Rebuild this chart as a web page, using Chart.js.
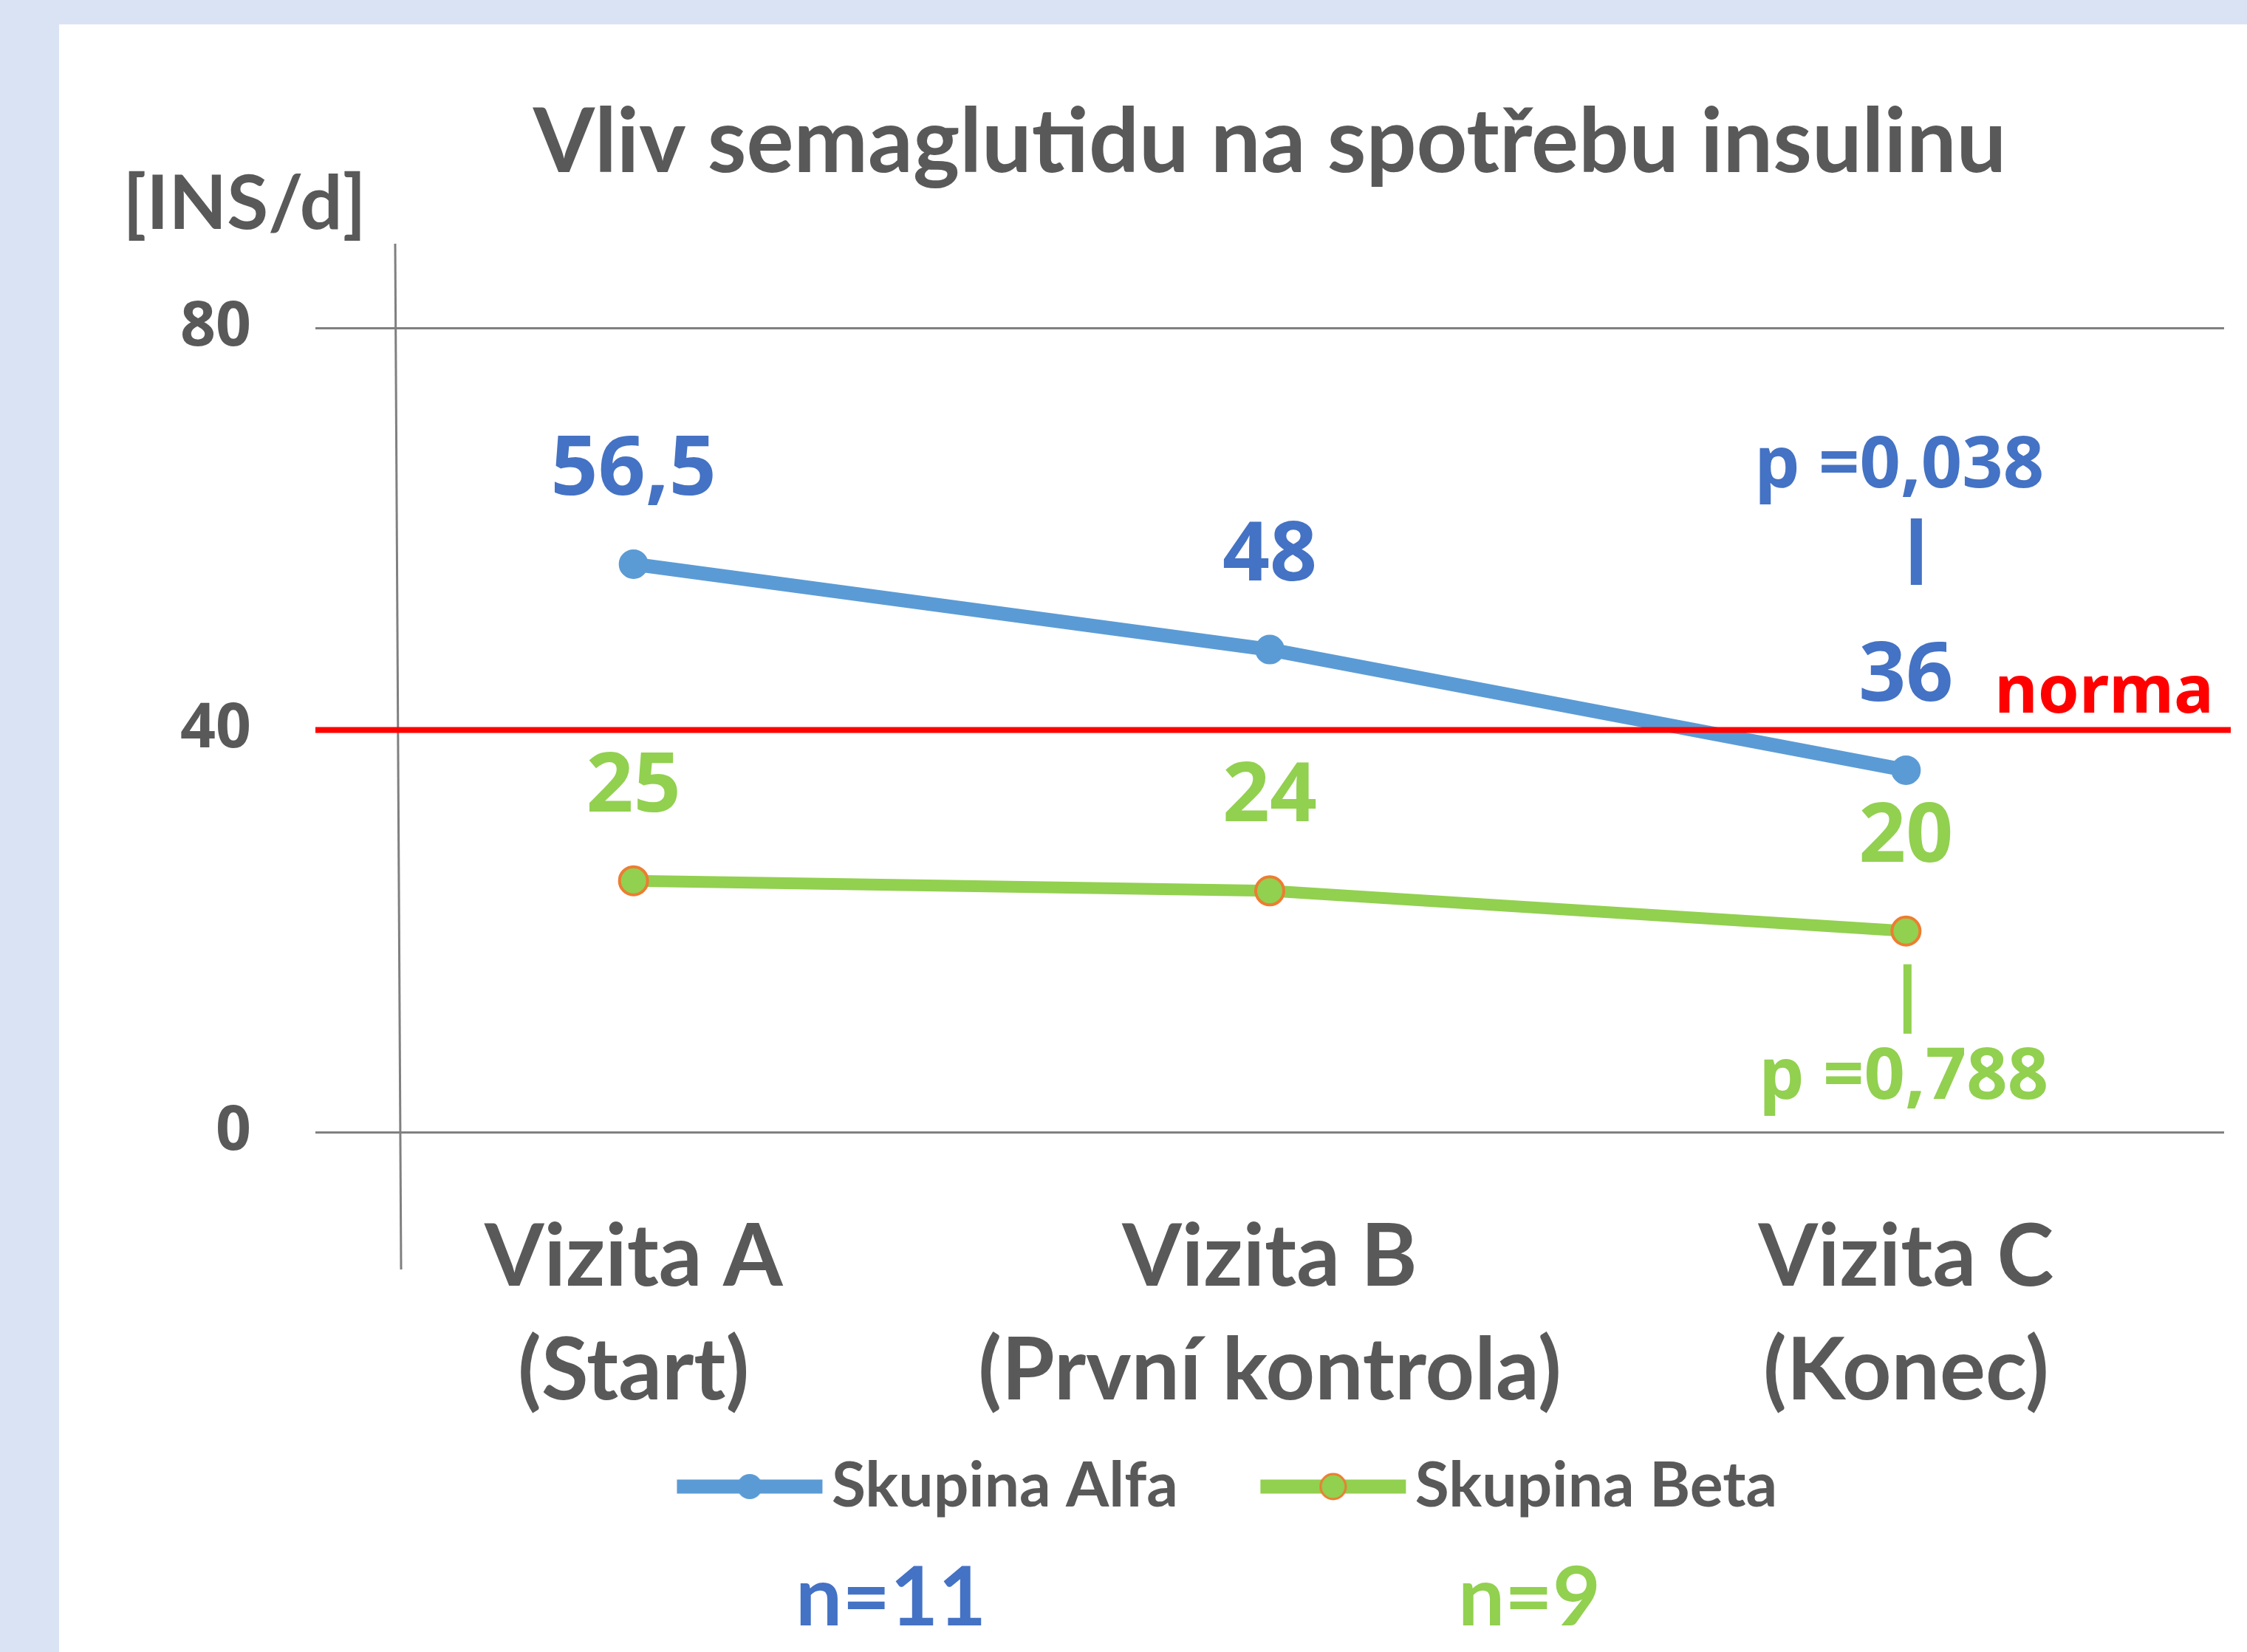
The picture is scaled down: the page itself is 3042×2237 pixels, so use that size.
<!DOCTYPE html>
<html>
<head>
<meta charset="utf-8">
<title>Vliv semaglutidu na spotřebu insulinu</title>
<script src="https://cdn.jsdelivr.net/npm/chart.js@4.4.1/dist/chart.umd.min.js"></script>
<style>
  html, body { margin: 0; padding: 0; background: #dae3f3; }
  body { width: 3042px; height: 2237px; position: relative; overflow: hidden; }
  #panel { position: absolute; left: 80px; top: 33px; width: 2962px; height: 2204px; background: #fff; }
  #insulinChart { display: block; }
</style>
</head>
<body>
<div id="panel"><canvas id="insulinChart" width="2962" height="2204"></canvas></div>
<script>
// chart data
const categories = [["Vizita A", "(Start)"], ["Vizita B", "(První kontrola)"], ["Vizita C", "(Konec)"]];
const seriesNames = ["Skupina Alfa", "Skupina Beta"];
const alfaValues = [56.5, 48, 36];
const betaValues = [25, 24, 20];
const yTicks = [0, 40, 80];
const normaValue = 40;
const groupSizes = ["n=11", "n=9"];
const pValues = ["p =0,038", "p =0,788"];

const BLUE_LINE = "#5b9bd5";
const BLUE_TEXT = "#4472c4";
const GREEN = "#92d050";
const ORANGE = "#ed7d31";
const GREY_TEXT = "#595959";
const RED = "#ff0000";
const TEXT_FONT = "Lato, 'Liberation Sans', sans-serif";
const NUM_FONT = "'Noto Sans', 'DejaVu Sans', sans-serif";

const fmt = v => String(v).replace(".", ",");

// legend sample: line with marker in the middle (Excel style).
// The image is wider than the sample so the blank left part acts as item spacing.
function legendSample(color, markerBorder) {
  const c = document.createElement("canvas");
  c.width = 310;
  c.height = 44;
  const g = c.getContext("2d");
  const x0 = 112, len = 197;
  g.strokeStyle = color;
  g.lineWidth = 19;
  g.beginPath();
  g.moveTo(x0, 22);
  g.lineTo(x0 + len, 22);
  g.stroke();
  g.beginPath();
  g.arc(x0 + len / 2, 22, 17, 0, Math.PI * 2);
  g.fillStyle = color;
  g.fill();
  if (markerBorder) {
    g.strokeStyle = markerBorder;
    g.lineWidth = 3;
    g.stroke();
  }
  return c;
}
const samples = [legendSample(BLUE_LINE), legendSample(GREEN, ORANGE)];

const overlayPlugin = {
  id: "overlay",
  beforeDatasetsDraw(chart) {
    const { ctx, chartArea: a } = chart;
    // hand-drawn looking vertical axis line
    ctx.save();
    ctx.strokeStyle = "#808080";
    ctx.lineWidth = 3;
    ctx.beginPath();
    ctx.moveTo(a.left + 108, a.top - 114);
    ctx.lineTo(a.left + 116, a.bottom + 186);
    ctx.stroke();

    ctx.fillStyle = GREY_TEXT;
    ctx.font = `bold 102px ${TEXT_FONT}`;
    ctx.textAlign = "center";
    ctx.textBaseline = "middle";
    ctx.fillText("[INS/d]", a.left - 96, a.top - 167);
    ctx.restore();
  },
  afterDatasetsDraw(chart) {
    const { ctx, chartArea: a, scales: { y } } = chart;
    const alfa = chart.getDatasetMeta(0).data;
    const beta = chart.getDatasetMeta(1).data;
    ctx.save();

    // norma line
    const ny = y.getPixelForValue(normaValue);
    ctx.strokeStyle = RED;
    ctx.lineWidth = 8;
    ctx.beginPath();
    ctx.moveTo(a.left, ny);
    ctx.lineTo(a.right + 9, ny);
    ctx.stroke();
    ctx.fillStyle = RED;
    ctx.font = `bold 90px ${NUM_FONT}`;
    ctx.textAlign = "right";
    ctx.textBaseline = "alphabetic";
    ctx.fillText("norma", a.right - 14, ny - 24);

    // value labels
    ctx.textAlign = "center";
    ctx.font = `bold 112px ${NUM_FONT}`;
    ctx.fillStyle = BLUE_TEXT;
    alfa.forEach((pt, i) => ctx.fillText(fmt(alfaValues[i]), pt.x, pt.y - 94));
    ctx.fillStyle = GREEN;
    beta.forEach((pt, i) => ctx.fillText(fmt(betaValues[i]), pt.x, pt.y - 94));

    // p values at last visit
    const lastA = alfa[alfa.length - 1];
    const lastB = beta[beta.length - 1];
    ctx.font = `bold 97px ${NUM_FONT}`;
    ctx.fillStyle = BLUE_TEXT;
    ctx.fillText(pValues[0], lastA.x - 9, lastA.y - 383);
    ctx.fillStyle = GREEN;
    ctx.fillText(pValues[1], lastB.x - 3, lastB.y + 227);

    ctx.lineWidth = 15;
    ctx.strokeStyle = BLUE_TEXT;
    ctx.beginPath();
    ctx.moveTo(lastA.x + 14, lastA.y - 341);
    ctx.lineTo(lastA.x + 14, lastA.y - 251);
    ctx.stroke();
    ctx.lineWidth = 11;
    ctx.strokeStyle = GREEN;
    ctx.beginPath();
    ctx.moveTo(lastB.x + 2, lastB.y + 45);
    ctx.lineTo(lastB.x + 2, lastB.y + 139);
    ctx.stroke();
    ctx.restore();
  },
  afterDraw(chart) {
    const { ctx, chartArea: a, legend } = chart;
    ctx.save();
    ctx.font = `bold 112px ${TEXT_FONT}`;
    ctx.textAlign = "center";
    ctx.textBaseline = "alphabetic";
    const yN = legend.bottom + 136;
    ctx.fillStyle = BLUE_TEXT;
    ctx.fillText(groupSizes[0], a.left + a.width * 0.3015, yN);
    ctx.fillStyle = GREEN;
    ctx.fillText(groupSizes[1], a.left + a.width * 0.636, yN);
    ctx.restore();
  }
};

new Chart(document.getElementById("insulinChart"), {
  type: "line",
  data: {
    labels: categories,
    datasets: [
      {
        label: seriesNames[0],
        data: alfaValues,
        borderColor: BLUE_LINE,
        backgroundColor: BLUE_LINE,
        borderWidth: 19,
        pointRadius: 19,
        pointBorderWidth: 2,
        pointBackgroundColor: BLUE_LINE,
        pointBorderColor: BLUE_LINE,
        tension: 0
      },
      {
        label: seriesNames[1],
        data: betaValues,
        borderColor: GREEN,
        backgroundColor: GREEN,
        borderWidth: 16,
        pointRadius: 19,
        pointBorderWidth: 4,
        pointBackgroundColor: GREEN,
        pointBorderColor: ORANGE,
        tension: 0
      }
    ]
  },
  options: {
    responsive: false,
    animation: false,
    devicePixelRatio: 1,
    layout: { padding: { left: 150, right: 31, top: 0, bottom: 172 } },
    plugins: {
      title: {
        display: true,
        fullSize: false,
        text: "Vliv semaglutidu na spotřebu insulinu",
        color: GREY_TEXT,
        font: { family: TEXT_FONT, size: 120, weight: "bold", lineHeight: 1.2 },
        padding: { top: 89, bottom: 178 }
      },
      legend: {
        position: "bottom",
        labels: {
          usePointStyle: true,
          pointStyleWidth: 249,
          padding: 30,
          color: GREY_TEXT,
          font: { family: TEXT_FONT, size: 84, weight: "bold" },
          generateLabels: chart => chart.data.datasets.map((ds, i) => ({
            text: ds.label,
            pointStyle: samples[i],
            fillStyle: ds.borderColor,
            strokeStyle: ds.borderColor,
            lineWidth: 0,
            hidden: false,
            datasetIndex: i,
            fontColor: GREY_TEXT
          }))
        }
      },
      tooltip: { enabled: false }
    },
    scales: {
      x: {
        offset: true,
        grid: { display: false, drawTicks: false },
        border: { display: false },
        ticks: {
          color: GREY_TEXT,
          font: { family: TEXT_FONT, size: 116, weight: "bold", lineHeight: 1.33 },
          padding: 93,
          maxRotation: 0,
          autoSkip: false
        },
        afterFit: s => { s.height = 408; }
      },
      y: {
        min: 0,
        max: 80,
        afterBuildTicks: s => { s.ticks = yTicks.map(v => ({ value: v })); },
        grid: { color: "#808080", lineWidth: 3, drawTicks: false },
        border: { display: false },
        ticks: {
          color: GREY_TEXT,
          font: { family: NUM_FONT, size: 84, weight: "bold" },
          padding: 87
        },
        afterFit: s => { s.width = 197; }
      }
    }
  },
  plugins: [overlayPlugin]
});
</script>
</body>
</html>
